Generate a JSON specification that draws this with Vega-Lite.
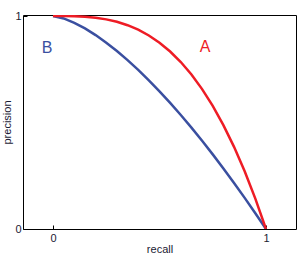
{
  "$schema": "https://vega.github.io/schema/vega-lite/v6.json",
  "width": 273,
  "height": 214,
  "autosize": {"type": "none"},
  "padding": {"left": 23, "top": 15, "right": 11, "bottom": 25},
  "background": "white",
  "config": {
    "view": {"stroke": "black", "strokeWidth": 1},
    "font": "Liberation Sans",
    "axis": {"grid": false, "domain": false, "labelFont": "Liberation Sans", "titleFont": "Liberation Sans", "labelFontSize": 11, "titleFontSize": 11, "titleFontWeight": "normal", "labelColor": "#1a1a33", "titleColor": "#1a1a33", "tickColor": "black"}
  },
  "datasets": {
    "curves": [
      {"curve": "B", "recall": 0, "precision": 1},
      {"curve": "B", "recall": 0.05, "precision": 0.9888},
      {"curve": "B", "recall": 0.1, "precision": 0.9684},
      {"curve": "B", "recall": 0.15, "precision": 0.9419},
      {"curve": "B", "recall": 0.2, "precision": 0.9106},
      {"curve": "B", "recall": 0.25, "precision": 0.875},
      {"curve": "B", "recall": 0.3, "precision": 0.8357},
      {"curve": "B", "recall": 0.35, "precision": 0.7929},
      {"curve": "B", "recall": 0.4, "precision": 0.747},
      {"curve": "B", "recall": 0.45, "precision": 0.6981},
      {"curve": "B", "recall": 0.5, "precision": 0.6464},
      {"curve": "B", "recall": 0.55, "precision": 0.5921},
      {"curve": "B", "recall": 0.6, "precision": 0.5352},
      {"curve": "B", "recall": 0.65, "precision": 0.476},
      {"curve": "B", "recall": 0.7, "precision": 0.4143},
      {"curve": "B", "recall": 0.75, "precision": 0.3505},
      {"curve": "B", "recall": 0.8, "precision": 0.2845},
      {"curve": "B", "recall": 0.85, "precision": 0.2163},
      {"curve": "B", "recall": 0.9, "precision": 0.1462},
      {"curve": "B", "recall": 0.95, "precision": 0.0741},
      {"curve": "B", "recall": 1, "precision": 0},
      {"curve": "A", "recall": 0, "precision": 1},
      {"curve": "A", "recall": 0.05, "precision": 0.9999},
      {"curve": "A", "recall": 0.1, "precision": 0.999},
      {"curve": "A", "recall": 0.15, "precision": 0.9966},
      {"curve": "A", "recall": 0.2, "precision": 0.992},
      {"curve": "A", "recall": 0.25, "precision": 0.9844},
      {"curve": "A", "recall": 0.3, "precision": 0.973},
      {"curve": "A", "recall": 0.35, "precision": 0.9571},
      {"curve": "A", "recall": 0.4, "precision": 0.936},
      {"curve": "A", "recall": 0.45, "precision": 0.9089},
      {"curve": "A", "recall": 0.5, "precision": 0.875},
      {"curve": "A", "recall": 0.55, "precision": 0.8336},
      {"curve": "A", "recall": 0.6, "precision": 0.784},
      {"curve": "A", "recall": 0.65, "precision": 0.7254},
      {"curve": "A", "recall": 0.7, "precision": 0.657},
      {"curve": "A", "recall": 0.75, "precision": 0.5781},
      {"curve": "A", "recall": 0.8, "precision": 0.488},
      {"curve": "A", "recall": 0.85, "precision": 0.3859},
      {"curve": "A", "recall": 0.9, "precision": 0.271},
      {"curve": "A", "recall": 0.95, "precision": 0.1426},
      {"curve": "A", "recall": 1, "precision": 0}
    ],
    "labels": [
      {"curve": "A", "recall": 0.714, "precision": 0.854},
      {"curve": "B", "recall": -0.028, "precision": 0.85}
    ]
  },
  "layer": [
    {
      "data": {"name": "curves"},
      "mark": {"type": "line", "strokeWidth": 2.5, "clip": true},
      "encoding": {
        "x": {"field": "recall", "type": "quantitative", "scale": {"domain": [-0.141, 1.141], "nice": false, "zero": false},
          "axis": {"values": [0, 1], "title": "recall", "tickSize": -4, "labelPadding": 7, "titlePadding": 0, "format": "d"}},
        "y": {"field": "precision", "type": "quantitative", "scale": {"domain": [0, 1.005], "nice": false},
          "axis": {"values": [0, 1], "title": "precision", "tickSize": -4, "labelPadding": 6, "titlePadding": 2, "format": "d"}},
        "color": {"field": "curve", "type": "nominal", "scale": {"domain": ["A", "B"], "range": ["#ee1c25", "#3a4fa0"]}, "legend": null},
        "order": {"field": "recall", "type": "quantitative"}
      }
    },
    {
      "data": {"name": "labels"},
      "mark": {"type": "text", "fontSize": 16, "font": "Liberation Sans"},
      "encoding": {
        "x": {"field": "recall", "type": "quantitative"},
        "y": {"field": "precision", "type": "quantitative"},
        "text": {"field": "curve"},
        "color": {"field": "curve", "type": "nominal", "legend": null}
      }
    }
  ]
}
